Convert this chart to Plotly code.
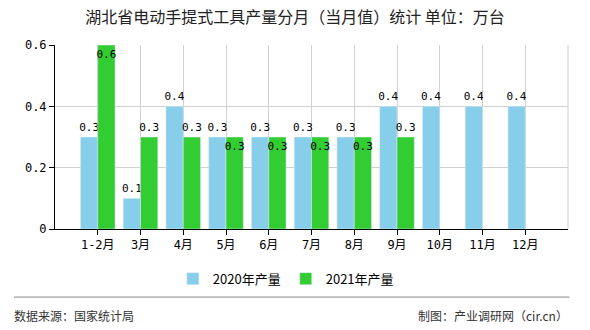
import plotly.graph_objects as go

months = ["1-2月", "3月", "4月", "5月", "6月", "7月", "8月", "9月", "10月", "11月", "12月"]
y2020 = [0.3, 0.1, 0.4, 0.3, 0.3, 0.3, 0.3, 0.4, 0.4, 0.4, 0.4]
y2021 = [0.6, 0.3, 0.3, 0.3, 0.3, 0.3, 0.3, 0.3, None, None, None]
pos2021 = ["inside", "outside", "outside", "inside", "inside", "inside", "inside", "outside", "none", "none", "none"]

num_font = "DejaVu Sans Mono, Noto Sans CJK SC"
cjk_font = "Noto Sans CJK SC"

fig = go.Figure()
fig.add_trace(go.Bar(
    x=months, y=y2020, name="2020年产量", marker_color="#87CEEB",
    text=[f"{v:.1f}" for v in y2020], textposition="outside", textangle=0,
    constraintext="none", cliponaxis=False,
    textfont=dict(family=num_font, size=11, color="#000"),
))
fig.add_trace(go.Bar(
    x=months, y=y2021, name="2021年产量", marker_color="#32CD32",
    text=[f"{v:.1f}" if v is not None else "" for v in y2021], textposition=pos2021,
    insidetextanchor="end", textangle=0, constraintext="none", cliponaxis=False,
    textfont=dict(family=num_font, size=11, color="#000"),
))

fig.update_layout(
    width=590, height=330,
    margin=dict(l=55, r=22, t=45, b=101),
    paper_bgcolor="white", plot_bgcolor="white",
    barmode="group", bargap=0.19, bargroupgap=0,
    uniformtext=dict(minsize=11, mode="show"),
    title=dict(text="湖北省电动手提式工具产量分月（当月值）统计 单位：万台",
               x=0.5, xanchor="center", y=0.948, yanchor="middle",
               font=dict(family=cjk_font, size=16, color="#222")),
    legend=dict(orientation="h", x=0.45, xanchor="center", y=-0.27, yanchor="middle",
                font=dict(family=cjk_font, size=13, color="#000"),
                itemwidth=30, traceorder="normal"),
    showlegend=True,
)
fig.update_xaxes(
    type="category", range=[-1, 11],
    showgrid=True, gridcolor="#d0d0d0", gridwidth=1,
    showline=True, linecolor="#000", linewidth=1,
    ticks="outside", ticklen=5, tickcolor="#000",
    tickfont=dict(family=num_font, size=12, color="#000"),
)
fig.update_yaxes(
    range=[0, 0.6], tickvals=[0, 0.2, 0.4, 0.6], ticktext=["0", "0.2", "0.4", "0.6"],
    showgrid=True, gridcolor="#d0d0d0", gridwidth=1, zeroline=False,
    showline=True, linecolor="#000", linewidth=1,
    ticks="outside", ticklen=5, tickcolor="#000",
    tickfont=dict(family=num_font, size=12, color="#000"),
)
# right border gridline
fig.add_shape(type="line", xref="paper", yref="paper", x0=1, x1=1, y0=0, y1=1,
              line=dict(color="#d0d0d0", width=1))
# footer separator
fig.add_shape(type="line", xref="paper", yref="paper", x0=-0.08, x1=1.003, y0=-0.37, y1=-0.37,
              line=dict(color="#888", width=1))
fig.add_annotation(text="数据来源：国家统计局", xref="paper", yref="paper",
                   x=-0.083, y=-0.47, xanchor="left", yanchor="middle", showarrow=False,
                   font=dict(family=cjk_font, size=12, color="#333"))
fig.add_annotation(text="制图：产业调研网（cir.cn）", xref="paper", yref="paper",
                   x=1.003, y=-0.47, xanchor="right", yanchor="middle", showarrow=False,
                   font=dict(family=cjk_font, size=12, color="#333"))

fig.write_html("out.html")
